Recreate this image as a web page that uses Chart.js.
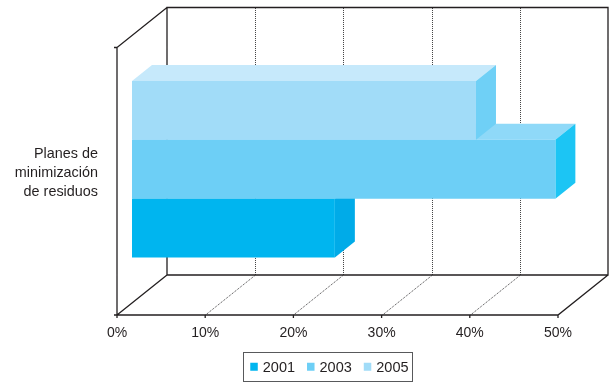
<!DOCTYPE html>
<html><head><meta charset="utf-8">
<script src="https://cdn.jsdelivr.net/npm/chart.js@4/dist/chart.umd.min.js"></script>
<style>html,body{margin:0;padding:0;background:#fff}</style>
</head><body>
<canvas id="c" width="612" height="383" style="display:block;width:612px;height:383px"></canvas>
<script>
// ---- data ----
const categories = [['Planes de', 'minimización', 'de residuos']];
const seriesNames = ['2005', '2003', '2001'];   // top to bottom inside the category
const values2005 = [39];
const values2003 = [48];
const values2001 = [23];
const xTickValues = [0, 10, 20, 30, 40, 50];
const xTickLabels = ['0%', '10%', '20%', '30%', '40%', '50%'];

// ---- styles ----
const FONT = '"Liberation Sans", Arial, Helvetica, sans-serif';
const TEXT = '#231F20';
const FACE = {
  '2001': { front: '#00B5EF', top: '#4CC6F2', side: '#00ABE8' },
  '2003': { front: '#6DCFF6', top: '#8FD9F8', side: '#1CC5F4' },
  '2005': { front: '#A1DCF8', top: '#C6E9FB', side: '#6FD0F6' }
};
const DX = 50, DY = -40;          // depth vector of the 3D box
const BAR_FRONT = 0.3, BAR_BACK = 0.7;

Chart.defaults.font.family = FONT;
Chart.defaults.color = TEXT;

const seriesValues = { '2005': values2005, '2003': values2003, '2001': values2001 };

function poly(ctx, pts, color) {
  ctx.beginPath();
  ctx.moveTo(pts[0][0], pts[0][1]);
  for (let i = 1; i < pts.length; i++) ctx.lineTo(pts[i][0], pts[i][1]);
  ctx.closePath();
  ctx.fillStyle = color;
  ctx.fill();
}

const threeD = {
  id: 'threeD',
  beforeDatasetsDraw(chart) {
    const ctx = chart.ctx, ca = chart.chartArea, xs = chart.scales.x;
    const L = ca.left, R = ca.right, T = ca.top, B = ca.bottom;
    ctx.save();
    // dotted gridlines on floor and back wall
    ctx.strokeStyle = '#414042';
    ctx.lineWidth = 1;
    ctx.setLineDash([1, 1]);
    xTickValues.slice(1, -1).forEach(v => {
      const px = Math.round(xs.getPixelForValue(v)) + 0.5;
      ctx.beginPath();
      ctx.moveTo(px, B);
      ctx.lineTo(px + DX, B + DY);
      ctx.lineTo(px + DX, T + DY);
      ctx.stroke();
    });
    ctx.setLineDash([]);
    // walls
    ctx.strokeStyle = TEXT;
    ctx.lineWidth = 1.3;
    ctx.beginPath();
    ctx.rect(L + DX, T + DY, R - L, B - T);
    ctx.moveTo(L, B); ctx.lineTo(L, T); ctx.lineTo(L + DX, T + DY);
    ctx.moveTo(L, B); ctx.lineTo(L + DX, B + DY);
    ctx.moveTo(L, B); ctx.lineTo(R, B); ctx.lineTo(R + DX, B + DY);
    // tick marks
    ctx.moveTo(L - 3, T); ctx.lineTo(L, T);
    ctx.moveTo(L - 3, B); ctx.lineTo(L, B);
    xTickValues.forEach(v => {
      const px = xs.getPixelForValue(v);
      ctx.moveTo(px, B); ctx.lineTo(px, B + 3);
    });
    ctx.stroke();

    // bars, bottom one first
    const fx = DX * BAR_FRONT, fy = DY * BAR_FRONT, bx = DX * BAR_BACK, by = DY * BAR_BACK;
    for (let i = chart.data.datasets.length - 1; i >= 0; i--) {
      const ds = chart.data.datasets[i];
      const c = FACE[ds.label];
      chart.getDatasetMeta(i).data.forEach(bar => {
        const p = bar.getProps(['x', 'y', 'base', 'height'], true);
        const top = p.y - p.height / 2, bot = p.y + p.height / 2;
        const x0 = Math.min(p.base, p.x), x1 = Math.max(p.base, p.x);
        poly(ctx, [[x0 + fx, top + fy], [x1 + fx, top + fy], [x1 + bx, top + by], [x0 + bx, top + by]], c.top);
        poly(ctx, [[x1 + fx, top + fy], [x1 + bx, top + by], [x1 + bx, bot + by], [x1 + fx, bot + fy]], c.side);
        poly(ctx, [[x0 + fx, top + fy], [x1 + fx, top + fy], [x1 + fx, bot + fy], [x0 + fx, bot + fy]], c.front);
      });
    }
    ctx.restore();
    return false;
  },
  afterDraw(chart) {
    // boxed legend, 2001 first
    const ctx = chart.ctx;
    const items = chart.data.datasets.map(d => ({ label: d.label, color: d.backgroundColor })).reverse();
    ctx.save();
    ctx.font = '14.5px ' + FONT;
    const sq = 7.5, gapT = 5, gapI = 12, padL = 7.3, padR = 3.5;
    const widths = items.map(it => ctx.measureText(it.label).width);
    let total = padL + padR;
    widths.forEach((w, i) => { total += sq + gapT + w + (i < widths.length - 1 ? gapI : 0); });
    const boxL = 327.5 - total / 2, boxT = 352, boxH = 29, cy = boxT + boxH / 2;
    ctx.strokeStyle = '#58595B';
    ctx.lineWidth = 1;
    ctx.strokeRect(Math.round(boxL) + 0.5, boxT + 0.5, Math.round(total), boxH);
    let x = boxL + padL;
    ctx.textBaseline = 'middle';
    ctx.textAlign = 'left';
    items.forEach((it, i) => {
      ctx.fillStyle = it.color;
      ctx.fillRect(x, cy - sq / 2, sq, sq + 0.5);
      x += sq + gapT;
      ctx.fillStyle = TEXT;
      ctx.fillText(it.label, x, cy + 1);
      x += widths[i] + gapI;
    });
    ctx.restore();
  }
};

new Chart(document.getElementById('c'), {
  type: 'bar',
  data: {
    labels: categories,
    datasets: seriesNames.map(n => ({
      label: n,
      data: seriesValues[n],
      backgroundColor: FACE[n].front,
      borderWidth: 0,
      categoryPercentage: 0.66,
      barPercentage: 1
    }))
  },
  options: {
    indexAxis: 'y',
    responsive: false,
    animation: false,
    devicePixelRatio: 1,
    layout: { padding: { left: 0, right: 54, top: 47, bottom: 0 } },
    plugins: { legend: { display: false }, tooltip: { enabled: false } },
    scales: {
      x: {
        min: 0, max: 50,
        afterFit(s) { s.height = 68; },
        afterBuildTicks(s) { s.ticks = xTickValues.map(v => ({ value: v })); },
        grid: { display: false, drawTicks: false },
        border: { display: false },
        ticks: {
          padding: 9.5,
          font: { size: 14 },
          color: TEXT,
          callback: (v) => xTickLabels[xTickValues.indexOf(v)]
        }
      },
      y: {
        afterFit(s) { s.width = 117; },
        grid: { display: false, drawTicks: false },
        border: { display: false },
        ticks: {
          padding: 19,
          labelOffset: -8,
          font: { size: 14.4, lineHeight: 19 / 14.4 },
          color: TEXT
        }
      }
    }
  },
  plugins: [threeD]
});
</script>
</body></html>
